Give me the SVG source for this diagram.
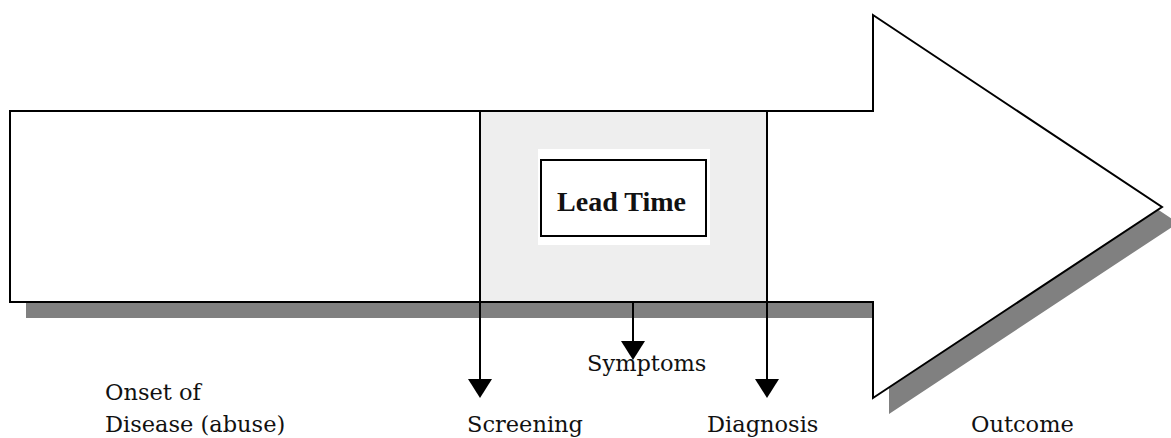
<svg xmlns="http://www.w3.org/2000/svg" width="1171" height="438" viewBox="0 0 1171 438">
  <style>
    .lbl { font-family: "DejaVu Serif", "Liberation Serif", serif; font-size: 22.5px; fill: #111; }
    .conn { stroke: #000; stroke-width: 2; fill: none; }
  </style>
  <defs>
    <marker id="head" markerUnits="userSpaceOnUse" markerWidth="20" markerHeight="24" refX="0" refY="12" orient="auto" overflow="visible">
      <path d="M0,0 L19,12 L0,24 Z" fill="#000"/>
    </marker>
  </defs>
  <rect width="1171" height="438" fill="#fff"/>
  <g id="timeline-arrow">
    <polygon points="26,127 889,127 889,31 1178,223 889,414 889,318 26,318" fill="#808080"/>
    <polygon points="10,111 873,111 873,15 1162,207 873,398 873,302 10,302" fill="#fff" stroke="#000" stroke-width="2" stroke-linejoin="miter"/>
  </g>
  <g id="lead-time-region">
    <rect x="481" y="112" width="286" height="189" fill="#eeeeee"/>
  </g>
  <g id="lead-time">
    <rect x="538" y="149" width="172" height="96" fill="#fff"/>
    <rect x="541" y="160" width="165" height="76" fill="#fff" stroke="#000" stroke-width="2"/>
    <text x="621.5" y="211" text-anchor="middle" font-family="'Liberation Serif', serif" font-weight="bold" font-size="28" fill="#111">Lead Time</text>
  </g>
  <g id="connectors">
    <line class="conn" x1="480" y1="111" x2="480" y2="379" marker-end="url(#head)"/>
    <line class="conn" x1="767" y1="111" x2="767" y2="379" marker-end="url(#head)"/>
    <line class="conn" x1="633" y1="302" x2="633" y2="341" marker-end="url(#head)"/>
  </g>
  <g id="onset">
    <text class="lbl" x="105" y="400">Onset of</text>
    <text class="lbl" x="105" y="432">Disease (abuse)</text>
  </g>
  <g id="screening"><text class="lbl" x="467" y="432">Screening</text></g>
  <g id="symptoms"><text class="lbl" x="587" y="371">Symptoms</text></g>
  <g id="diagnosis"><text class="lbl" x="707" y="432">Diagnosis</text></g>
  <g id="outcome"><text class="lbl" x="971" y="432">Outcome</text></g>
</svg>
